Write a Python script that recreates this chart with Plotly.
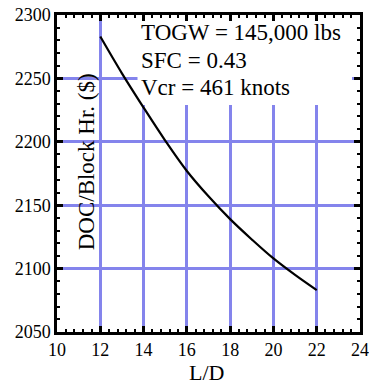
import plotly.graph_objects as go

ld = [12, 13, 14, 15, 16, 17, 18, 19, 20, 21, 22]
doc = [2283, 2254, 2227, 2201, 2177, 2157, 2139, 2123, 2108, 2095, 2083]
x_ticks = [10, 12, 14, 16, 18, 20, 22, 24]
y_ticks = [2050, 2100, 2150, 2200, 2250, 2300]
notes = ["TOGW = 145,000 lbs", "SFC = 0.43", "Vcr = 461 knots"]
note_y = [2286, 2264.5, 2243]

FONT = "Liberation Serif"
GRID = "#8484ec"

fig = go.Figure()
fig.add_trace(go.Scatter(x=ld, y=doc, mode="lines", line=dict(color="black", width=2.2, shape="spline"),
                         showlegend=False, hoverinfo="skip"))

fig.add_shape(type="rect", xref="x", yref="y", x0=13.72, x1=23.63, y0=2229, y1=2300,
              fillcolor="white", line=dict(width=0), layer="between")

for t, yy in zip(notes, note_y):
    fig.add_annotation(x=13.8, y=yy, xref="x", yref="y", text=t, showarrow=False,
                       xanchor="left", yanchor="middle", font=dict(family=FONT, size=23, color="black"))

fig.add_annotation(x=11.35, y=2184, xref="x", yref="y", text="DOC/Block Hr. ($)", showarrow=False,
                   textangle=-90, xanchor="center", yanchor="middle",
                   font=dict(family=FONT, size=23, color="black"))

fig.add_annotation(x=0.495, y=-0.129, xref="paper", yref="paper", text="L/D", showarrow=False,
                   xanchor="center", yanchor="middle",
                   font=dict(family=FONT, size=22, color="black"))

axis_common = dict(showline=True, linecolor="black", linewidth=2.5, mirror="allticks",
                   ticks="inside", ticklen=6, tickwidth=2.5, tickcolor="black",
                   showgrid=True, gridcolor=GRID, gridwidth=2.5, zeroline=False, automargin=False,
                   tickfont=dict(family=FONT, size=18, color="black"))

fig.update_xaxes(range=[10, 24], tickvals=x_ticks, ticktext=[str(v) for v in x_ticks],
                 minor=dict(ticks="inside", ticklen=3, tickwidth=2, tickcolor="black", dtick=0.4, tick0=10, showgrid=False),
                 **axis_common)
fig.update_yaxes(range=[2050, 2300], tickvals=y_ticks, ticktext=[str(v) for v in y_ticks],
                 minor=dict(ticks="inside", ticklen=3, tickwidth=2, tickcolor="black", dtick=10, tick0=2050, showgrid=False),
                 **axis_common)

fig.update_layout(width=369, height=387, margin=dict(l=57, r=9, t=15, b=55),
                  paper_bgcolor="white", plot_bgcolor="white")

fig.write_html("out.html", config={"displayModeBar": False},
               post_script="document.body.style.margin='0';document.body.style.overflow='hidden';")
